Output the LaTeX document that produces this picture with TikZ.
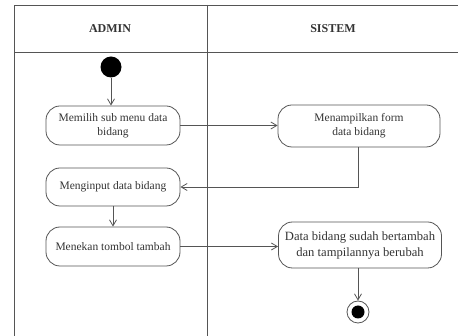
\documentclass[tikz,border=0pt]{standalone}
\usepackage{fontspec}
\setmainfont{Liberation Serif}
\usepackage{xcolor}
\usetikzlibrary{arrows.meta}
\definecolor{lane}{HTML}{555555}
\definecolor{ink}{HTML}{333333}

\begin{document}
\begin{tikzpicture}[x=1pt,y=-1pt,
  act/.style={draw=lane,thick,rounded corners=14pt,align=center,inner sep=2pt,text=ink,
    font=\fontsize{11.5}{14}\selectfont},
  lanehead/.style={text=ink,font=\fontsize{12}{14}\selectfont\bfseries},
  flow/.style={draw=lane,thick,-{Straight Barb[length=6pt,width=7pt]}}]
\useasboundingbox (0,0) rectangle (458,336);
% swimlanes
\draw[lane,thick] (458,5)--(14,5)--(14,336);
\draw[lane,thick] (14,52)--(458,52);
\draw[lane,thick] (207,5)--(207,336);
\node[lanehead] (hadmin) at (110,29) {ADMIN};
\node[lanehead] (hsistem) at (333,29) {SISTEM};
% admin
\node[circle,fill=black,minimum size=21pt,inner sep=0pt] (start) at (111,67) {};
\node[act,minimum width=134pt,minimum height=39pt] (pilih) at (113,125.5) {Memilih sub menu data\\bidang};
\node[act,minimum width=134pt,minimum height=38pt] (input) at (113,187) {Menginput data bidang};
\node[act,minimum width=134pt,minimum height=39pt] (tekan) at (113,246.5) {Menekan tombol tambah};
% sistem
\node[act,minimum width=162pt,minimum height=42pt] (form) at (359,126) {Menampilkan form\\data bidang};
\node[act,minimum width=163pt,minimum height=46pt,font=\fontsize{12.6}{16}\selectfont] (ubah) at (360,245) {Data bidang sudah bertambah\\dan tampilannya berubah};
\node[circle,draw=lane,thick,minimum size=22pt,inner sep=0pt] (end) at (358,312) {};
\fill (end) circle (6.5);
% alur
\draw[flow] (start)--(start|-pilih.north);
\draw[flow] (pilih.east)--(form.west|-pilih.east);
\draw[flow] (form.south-|end) |- (input.east);
\draw[flow] (input)--(tekan);
\draw[flow] (tekan.east)--(ubah.west|-tekan.east);
\draw[flow] (ubah.south-|end)--(end);
\end{tikzpicture}
\end{document}
